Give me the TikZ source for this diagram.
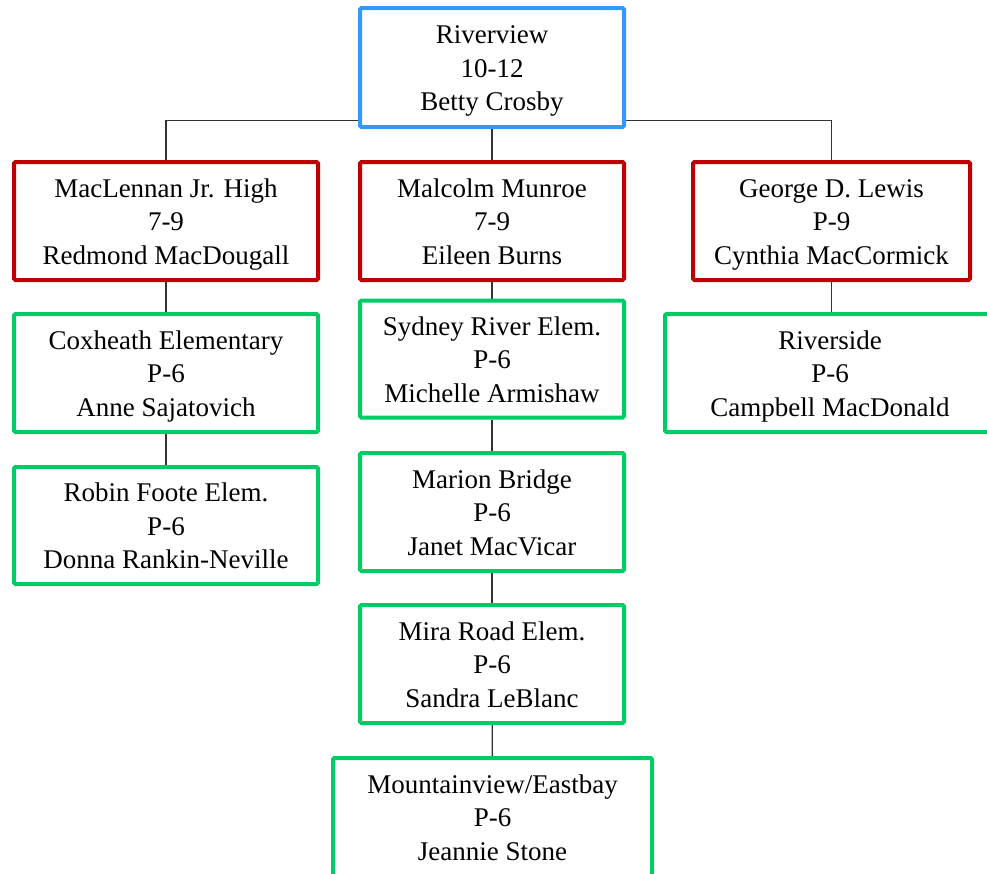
\documentclass[tikz,border=0pt]{standalone}
\usepackage{fontspec}
\setmainfont{Liberation Serif}
\usetikzlibrary{backgrounds}
\definecolor{cblue}{RGB}{51,153,255}
\definecolor{cred}{RGB}{192,0,0}
\definecolor{cgreen}{RGB}{0,204,102}
\definecolor{cline}{RGB}{51,51,51}
\newcommand\tstr{\rule{0pt}{26pt}}
\newcommand\bstr{\rule[-7pt]{0pt}{7pt}}
\begin{document}
\begin{tikzpicture}[x=1pt,y=-1pt,
  box/.style={draw, line width=4pt, fill=white, rounded corners=1.5pt, inner sep=0pt,
    align=center, font=\fontsize{27}{33.5}\selectfont},
  topbox/.style={box, draw=cblue},
  midbox/.style={box, draw=cred},
  lowbox/.style={box, draw=cgreen},
  conn/.style={draw=cline, line width=1.4pt}]
\useasboundingbox (0,0) rectangle (987,873);
\clip (0,0) rectangle (987,873);
\node[topbox, minimum width=264pt, minimum height=119pt] (rv) at (492,67.5) {\tstr Riverview\\10-12\\Betty Crosby\bstr};
\node[midbox, minimum width=304pt, minimum height=118pt] (ml) at (166,221) {\tstr MacLennan Jr. High\\7-9\\Redmond MacDougall\bstr};
\node[midbox, minimum width=264pt, minimum height=118pt] (mm) at (492,221) {\tstr Malcolm Munroe\\7-9\\Eileen Burns\bstr};
\node[midbox, minimum width=277pt, minimum height=118pt] (gl) at (831.5,221) {\tstr George D. Lewis\\P-9\\Cynthia MacCormick\bstr};
\node[lowbox, minimum width=304pt, minimum height=118pt] (cx) at (166,373) {\tstr Coxheath Elementary\\P-6\\Anne Sajatovich\bstr};
\node[lowbox, minimum width=304pt, minimum height=117pt] (rf) at (166,525.5) {\tstr Robin Foote Elem.\\P-6\\Donna Rankin-Neville\bstr};
\node[lowbox, minimum width=264pt, minimum height=117pt] (sr) at (492,359) {\tstr Sydney River Elem.\\P-6\\Michelle Armishaw\bstr};
\node[lowbox, minimum width=264pt, minimum height=118pt] (mb) at (492,512) {\tstr Marion Bridge\\P-6\\Janet MacVicar\bstr};
\node[lowbox, minimum width=264pt, minimum height=118pt] (mr) at (492,664) {\tstr Mira Road Elem.\\P-6\\Sandra LeBlanc\bstr};
\node[lowbox, minimum width=319pt, minimum height=118pt] (mv) at (492.5,817) {\tstr Mountainview/Eastbay\\P-6\\Jeannie Stone\bstr};
\node[lowbox, minimum width=330pt, minimum height=118pt] (rs) at (830,373) {\tstr Riverside\\P-6\\Campbell MacDonald\bstr};
\coordinate (bus) at (492,120.5);
\begin{scope}[on background layer]
\draw[conn] (ml.north) |- (bus) -| (gl.north);
\draw[conn] (rv) -- (mm);
\draw[conn] (ml) -- (cx);
\draw[conn] (cx) -- (rf);
\draw[conn] (mm) -- (sr);
\draw[conn] (sr) -- (mb);
\draw[conn] (mb) -- (mr);
\draw[conn] (mr) -- (mv);
\draw[conn] (gl.south) -- (gl.south |- rs.north);
\end{scope}
\end{tikzpicture}
\end{document}
